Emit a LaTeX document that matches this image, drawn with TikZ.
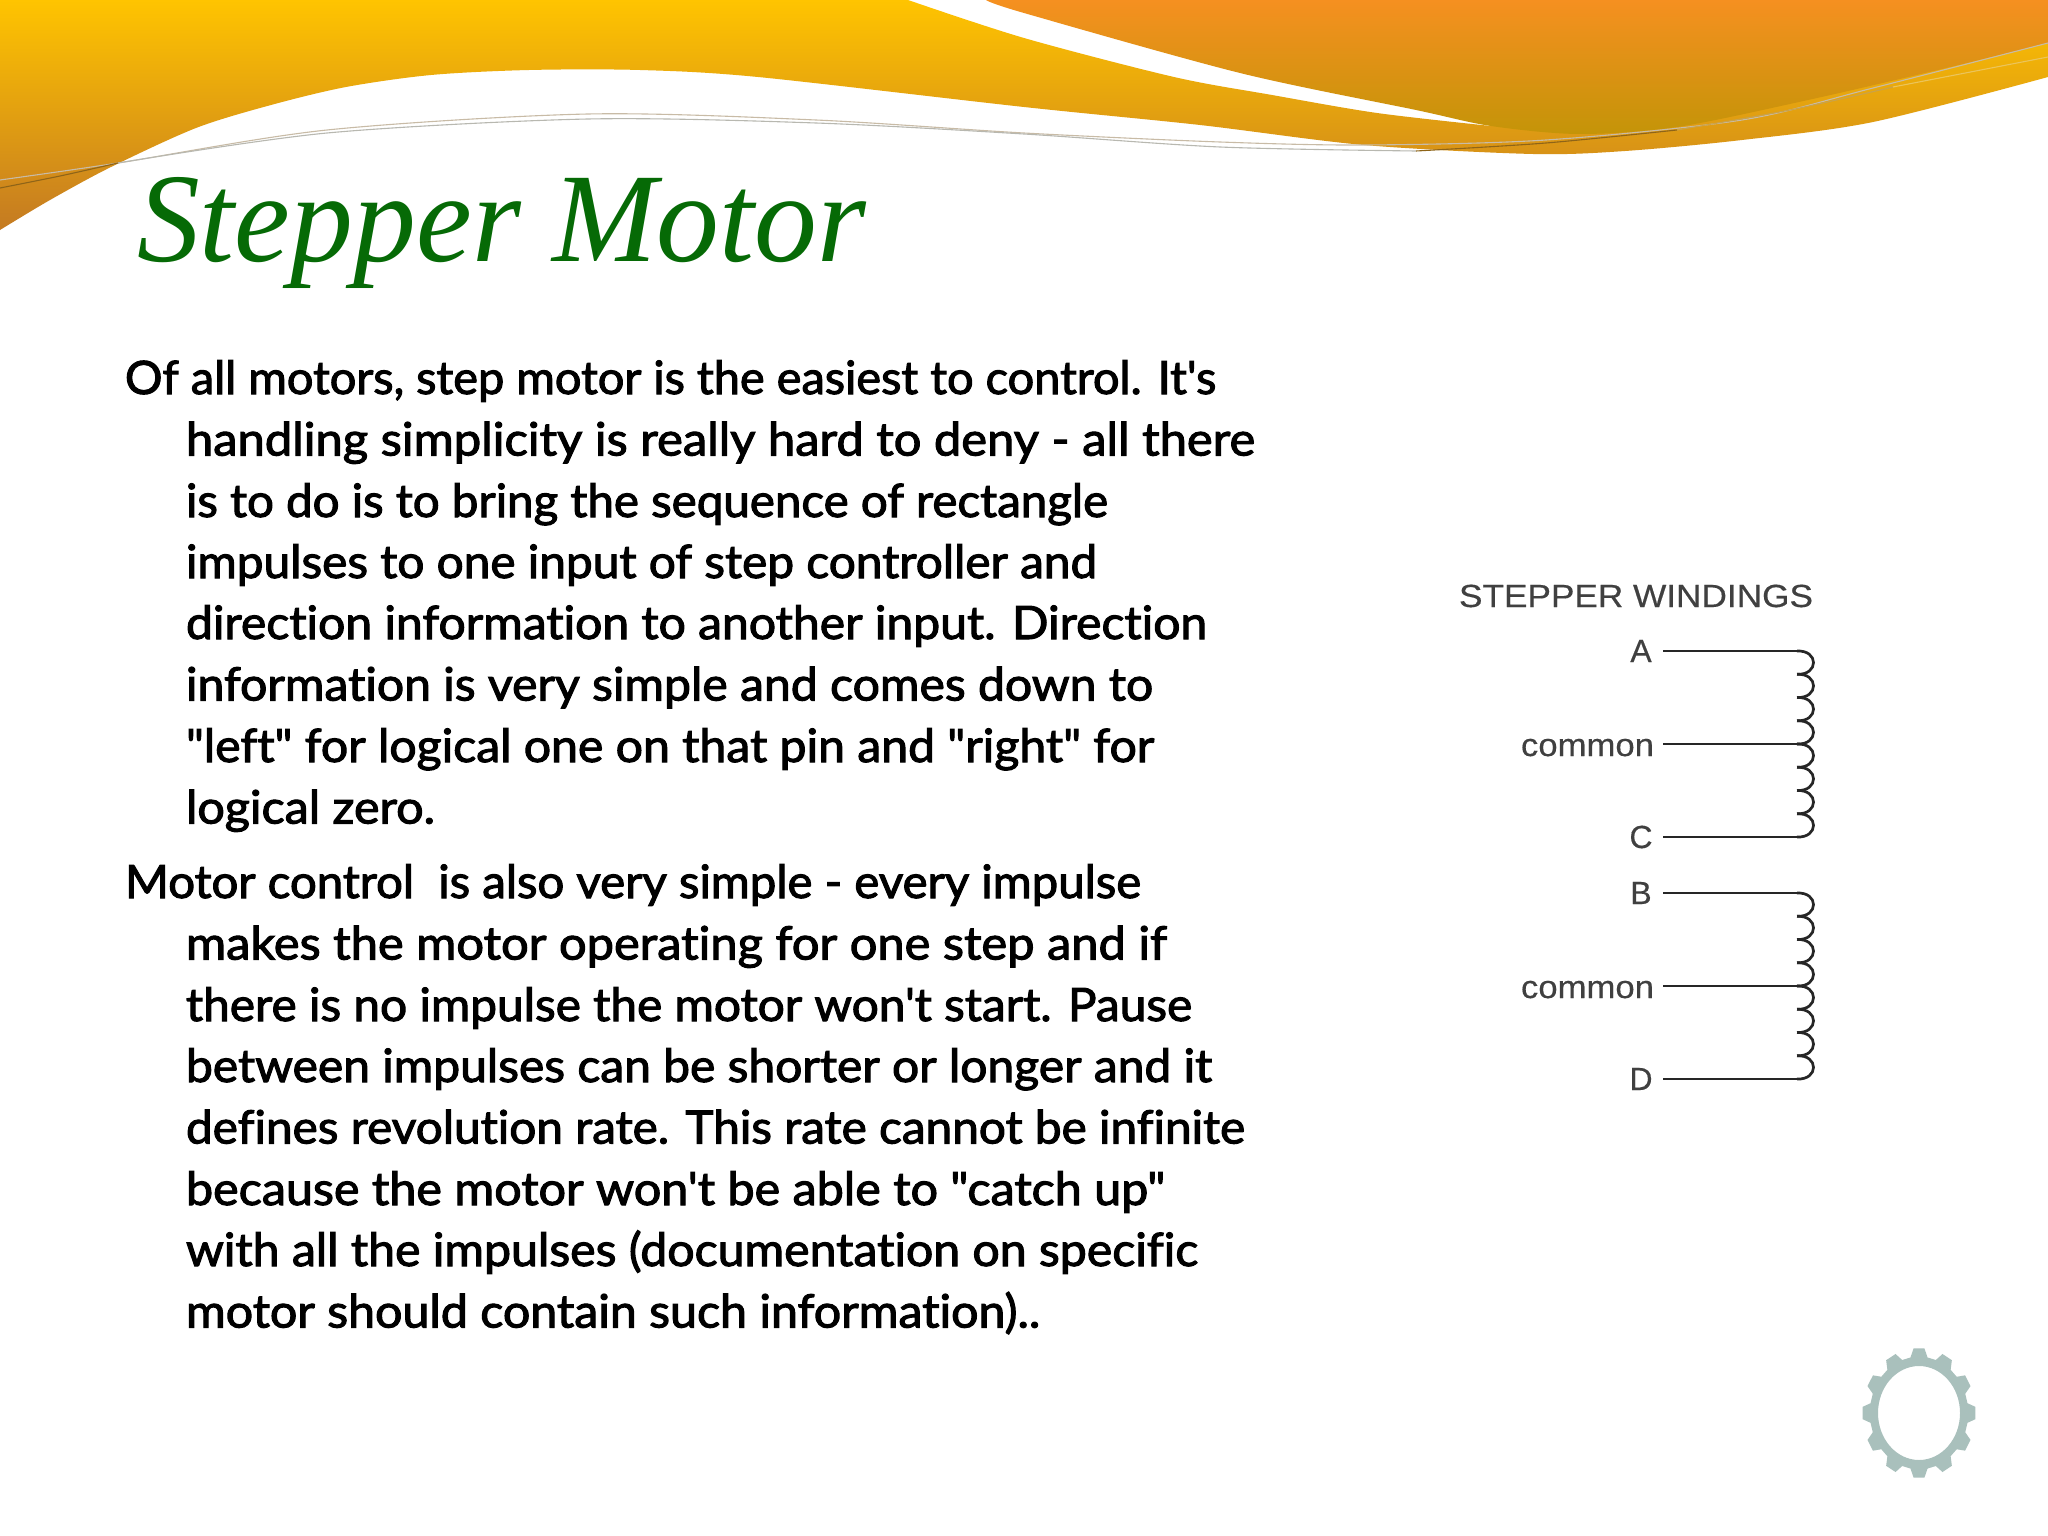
\documentclass[tikz,border=0pt]{standalone}
\usepackage{graphicx}
\usepackage{fontspec}
\setmainfont{Liberation Serif}
\newfontfamily\bodyfont[FakeBold=2.2,Ligatures=CommonOff]{Lato}
\newfontfamily\labelfont[FakeBold=0.4]{Liberation Sans}
\definecolor{goldtop}{HTML}{FFC400}
\definecolor{goldbot}{HTML}{C47A22}
\definecolor{orangetop}{HTML}{F59020}
\definecolor{orangebot}{HTML}{C49408}
\definecolor{titlegreen}{HTML}{066A06}
\definecolor{gearcol}{HTML}{A9C0BC}
\definecolor{wirecol}{HTML}{262626}
\definecolor{labelcol}{HTML}{404040}
\definecolor{threadA}{HTML}{C8BBA6}
\definecolor{threadB}{HTML}{B8B8B0}
\definecolor{threadDark}{HTML}{8E6418}
\definecolor{threadTan}{HTML}{C9A24A}
\definecolor{threadPale}{HTML}{EBC45A}
\newcommand\fitw[2]{\resizebox{#1pt}{\height}{#2}}
\tikzset{
  bodyline/.style={anchor=base west,inner sep=0pt,outer sep=0pt,text=black,font=\bodyfont\fontsize{46}{46}\selectfont},
  wlabel/.style={anchor=base,inner sep=0pt,outer sep=0pt,text=labelcol,font=\labelfont\fontsize{32}{32}\selectfont},
  wire/.style={draw=wirecol,line width=2.7pt},
  thread/.style={line width=1.1pt}
}
\newcommand\coilbumps[1]{%
  \foreach \i in {0,...,7}{%
    \pgfmathsetmacro\ya{#1+23.25*\i}%
    \pgfmathsetmacro\yb{#1+23.25*(\i+1)}%
    \draw[wire] (1797,\ya) .. controls (1819,\ya-1) and (1819,\yb+1) .. (1797,\yb);
  }}
\begin{document}
\begin{tikzpicture}[x=1pt,y=-1pt]
\useasboundingbox (0,0) rectangle (2048,1536);
\fill[white] (0,0) rectangle (2048,1536);
% gold swoosh
\path[top color=goldtop,bottom color=goldbot,shading angle=0]
  (0,0) -- plot[smooth,tension=.5] coordinates {(908,0) (1024,38) (1174,77) (1272,95) (1377,113) (1491,126)}
  -- (1700,100) -- (2048,30) -- (2048,77)
  -- plot[smooth,tension=.5] coordinates {(2048,77) (1873,122) (1742,140) (1625,151) (1533,154) (1364,145) (1200,125) (1024,107) (758,77) (640,70) (529,70) (431,75) (346,87) (271,105) (196,128) (111,167) (50,200) (0,230)}
  -- cycle;
% orange swoosh
\path[top color=orangetop,bottom color=orangebot]
  (986,0) -- plot[smooth,tension=.5] coordinates {(986,0) (1024,13) (1240,73) (1416,110) (1491,126) (1579,134) (1677,127) (1808,100) (1938,70) (2048,43)}
  -- (2048,0) -- cycle;
% thin threads
\draw[thread,draw=threadA] plot[smooth,tension=.5] coordinates {(0,180) (118,163) (327,130) (588,114) (816,120) (1024,133) (1220,142) (1364,145) (1546,140) (1742,120) (1873,88) (2048,43)};
\draw[thread,draw=threadB] plot[smooth,tension=.5] coordinates {(118,163) (327,133) (588,119) (816,123) (1024,134) (1220,147) (1416,151)};
\draw[thread,draw=threadDark] plot[smooth,tension=.5] coordinates {(0,188) (60,176) (118,163)};
\draw[thread,draw=threadDark] plot[smooth,tension=.5] coordinates {(1416,151) (1546,143) (1677,130)};
\draw[thread,draw=threadTan] plot[smooth,tension=.5] coordinates {(1677,130) (1790,110) (1893,87)};
\draw[thread,draw=threadPale] (1893,87) -- (2048,57);
% title
\node[anchor=base west,inner sep=0pt,text=titlegreen] (title) at (137,261) {\fitw{729}{\fontsize{127}{127}\selectfont\itshape Stepper Motor}};
% body text
\node[bodyline] (l1) at (125,394) {\fitw{1091}{Of all motors, step motor is the easiest to control. It's}};
\node[bodyline] (l2) at (186,455.5) {\fitw{1069}{handling simplicity is really hard to deny - all there}};
\node[bodyline] (l3) at (186,517) {\fitw{922}{is to do is to bring the sequence of rectangle}};
\node[bodyline] (l4) at (186,578) {\fitw{911}{impulses to one input of step controller and}};
\node[bodyline] (l5) at (186,639) {\fitw{1021}{direction information to another input. Direction}};
\node[bodyline] (l6) at (186,700.5) {\fitw{967}{information is very simple and comes down to}};
\node[bodyline] (l7) at (186,762) {\fitw{968}{"left" for logical one on that pin and "right" for}};
\node[bodyline] (l8) at (186,823.5) {\fitw{249}{logical zero.}};
\node[bodyline] (m1) at (125,898) {\fitw{1016}{Motor control\ \ is also very simple - every impulse}};
\node[bodyline] (m2) at (186,959.5) {\fitw{981}{makes the motor operating for one step and if}};
\node[bodyline] (m3) at (186,1021) {\fitw{1006}{there is no impulse the motor won't start. Pause}};
\node[bodyline] (m4) at (186,1082) {\fitw{1026}{between impulses can be shorter or longer and it}};
\node[bodyline] (m5) at (186,1143.5) {\fitw{1059}{defines revolution rate. This rate cannot be infinite}};
\node[bodyline] (m6) at (186,1205) {\fitw{979}{because the motor won't be able to "catch up"}};
\node[bodyline] (m7) at (186,1266) {\fitw{1012}{with all the impulses (documentation on specific}};
\node[bodyline] (m8) at (186,1327.5) {\fitw{854}{motor should contain such information)..}};
% windings
\node[wlabel,anchor=base west] (head) at (1459,607) {\fitw{354}{STEPPER WINDINGS}};
\node[wlabel] (A) at (1641,662) {A};
\node[wlabel,anchor=base east] (comA) at (1654,756) {\fitw{133}{common}};
\node[wlabel] (C) at (1641,848) {C};
\node[wlabel] (B) at (1641,904) {B};
\node[wlabel,anchor=base east] (comB) at (1654,998) {\fitw{133}{common}};
\node[wlabel] (D) at (1641,1090) {D};
\coordinate (wA) at (1663,651);  \coordinate (cA) at (1797,651);
\coordinate (wM) at (1663,744);  \coordinate (cM) at (1797,744);
\coordinate (wC) at (1663,837);  \coordinate (cC) at (1797,837);
\coordinate (wB) at (1663,893);  \coordinate (cB) at (1797,893);
\coordinate (wN) at (1663,986);  \coordinate (cN) at (1797,986);
\coordinate (wD) at (1663,1079); \coordinate (cD) at (1797,1079);
\draw[wire] (wA) -- (cA);
\draw[wire] (wM) -- (cM);
\draw[wire] (wC) -- (cC);
\draw[wire] (wB) -- (cB);
\draw[wire] (wN) -- (cN);
\draw[wire] (wD) -- (cD);
\coilbumps{651}
\coilbumps{893}
% gear
\begin{scope}[shift={(1919,1413)},xscale=41,yscale=47]
\fill[gearcol,even odd rule]
  (-10:1.2) \foreach \a in {0,30,...,330}{ -- ({\a-10}:1.2) -- ({\a-5.5}:1.38) -- ({\a+5.5}:1.38) -- ({\a+10}:1.2) } -- cycle
  (0,0) circle (1);
\end{scope}
\end{tikzpicture}
\end{document}
